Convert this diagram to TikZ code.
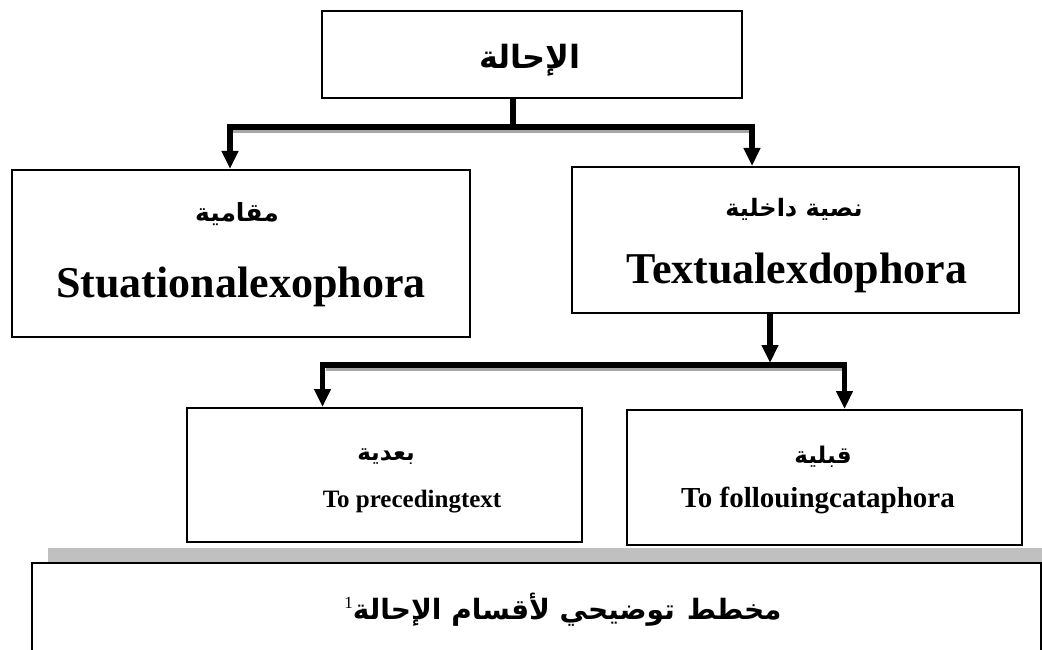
\documentclass[tikz,border=0pt]{standalone}
\usepackage{fontspec}
\setmainfont{Liberation Serif}
\newfontfamily\arabicfont[Script=Arabic]{DejaVu Sans}
\TeXXeTstate=1
\usetikzlibrary{arrows.meta}
\definecolor{shadowgray}{HTML}{A6A6A6}
\definecolor{bandgray}{HTML}{C0C0C0}
\newcommand\artext[1]{{\arabicfont\bfseries\beginR #1\endR}}
\begin{document}
\begin{tikzpicture}[x=1pt,y=-1pt,
  box/.style={draw,line width=2pt,rectangle,inner sep=0pt},
  label/.style={inner sep=0pt,anchor=center},
  conn/.style={line width=5.5pt},
  arr/.style={line width=5.5pt,-{Triangle[width=16pt,length=18pt]}},
  shade/.style={line width=3.5pt,shadowgray}]
\useasboundingbox (0,0) rectangle (1042,650);
\fill[white] (0,0) rectangle (1042,650);

% boxes
\node[box,minimum width=420pt,minimum height=87pt] (top) at (532,54.5) {};
\node[box,minimum width=458pt,minimum height=167pt] (left) at (241,253.5) {};
\node[box,minimum width=447pt,minimum height=146pt] (right) at (795.5,240) {};
\node[box,minimum width=395pt,minimum height=134pt] (ll) at (384.5,475) {};
\node[box,minimum width=395pt,minimum height=135pt] (lr) at (824.5,477.5) {};
\fill[bandgray] (48,548) rectangle (1042,563);
\node[box,minimum width=1009pt,minimum height=140pt] (bottom) at (536.5,633) {};

% texts
\node[label,font=\fontsize{32}{36}\selectfont] (topt) at (530,60) {\artext{الإحالة}};
\node[label,font=\fontsize{25}{30}\selectfont] (leftAr) at (237,214) {\artext{مقامية}};
\node[label,font=\fontsize{44}{50}\selectfont\bfseries,anchor=base] (leftEn) at (241,297) {Stuationalexophora};
\node[label,font=\fontsize{24}{30}\selectfont] (rightAr) at (794,209) {\artext{نصية داخلية}};
\node[label,font=\fontsize{44}{50}\selectfont\bfseries,anchor=base] (rightEn) at (797,283) {Textualexdophora};
\node[label,font=\fontsize{23}{26}\selectfont] (llAr) at (386,457) {\artext{بعدية}};
\node[label,font=\fontsize{25}{30}\selectfont\bfseries,anchor=base] (llEn) at (412,507) {To precedingtext};
\node[label,font=\fontsize{23}{26}\selectfont] (lrAr) at (823,457) {\artext{قبلية}};
\node[label,font=\fontsize{29}{34}\selectfont\bfseries,anchor=base] (lrEn) at (818,507) {To follouingcataphora};
\node[label,font=\fontsize{28}{32}\selectfont] (cap) at (563,610) {\artext{مخطط\hspace{12pt}توضيحي لأقسام الإحالة\raisebox{11pt}{\rmfamily\mdseries\fontsize{17}{17}\selectfont 1}}};

% connectors
\coordinate (j1) at (513,127);
\coordinate (a1) at (230,127);
\coordinate (a2) at (752,127);
\coordinate (j2) at (770,365);
\coordinate (b1) at (322.5,365);
\coordinate (b2) at (844.5,365);
\draw[shade] ([xshift=3pt,yshift=-4.5pt]a1) -- ([xshift=-3pt,yshift=-4.5pt]a2);
\draw[shade] ([xshift=3pt,yshift=-4.5pt]b1) -- ([xshift=-3pt,yshift=-4.5pt]b2);
\draw[conn] (top.south -| j1) -- (j1);
\draw[arr] (j1) -| (left.north -| a1);
\draw[arr] (j1) -| (right.north -| a2);
\draw[arr] (right.south -| j2) -- ([yshift=2pt]j2);
\draw[arr] (b1) -- (b2) -- (lr.north -| b2);
\draw[arr] (b2) -- (b1) -- (ll.north -| b1);
\end{tikzpicture}
\end{document}
